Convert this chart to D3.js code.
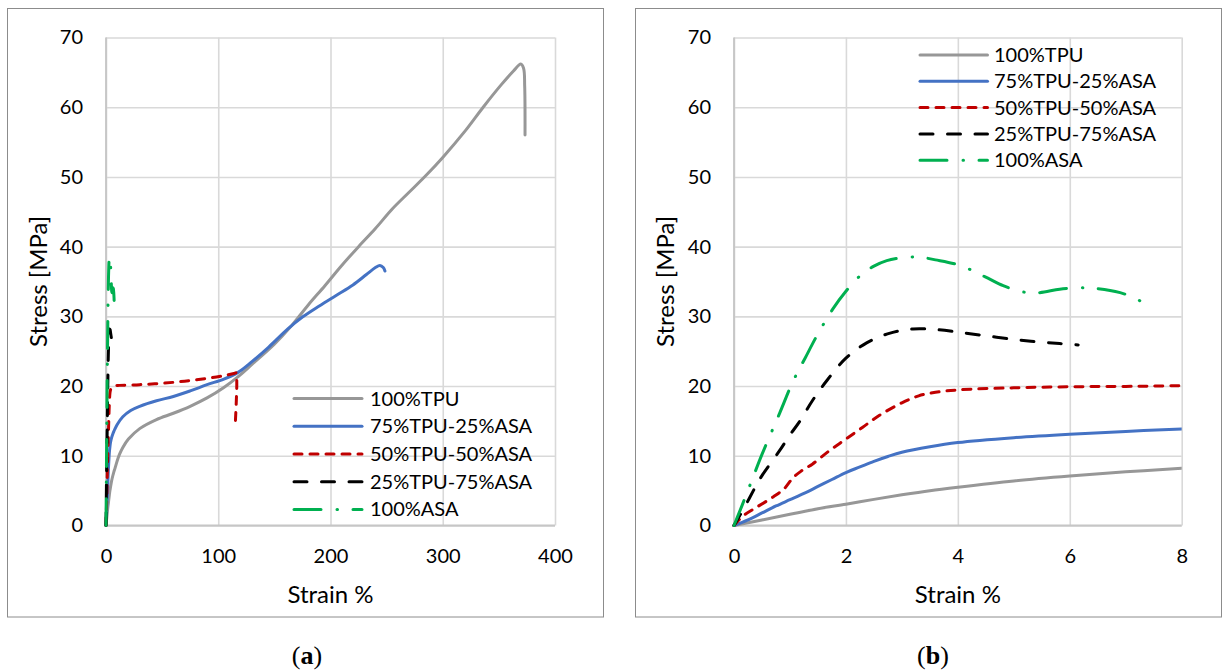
<!DOCTYPE html>
<html>
<head>
<meta charset="utf-8">
<script src="https://cdn.jsdelivr.net/npm/d3@7"></script>
<style>
  html, body { margin: 0; padding: 0; background: #fff; }
  svg { display: block; }
</style>
</head>
<body>
<svg id="chart" width="1226" height="671"></svg>
<script>
// Tensile stress–strain curves, [strain %, stress MPa]
const seriesNames = ["100%TPU", "75%TPU-25%ASA", "50%TPU-50%ASA", "25%TPU-75%ASA", "100%ASA"];

const tpu100 = [
  [0,0],[0.5,0.8],[1,1.6],[1.5,2.4],[2,3.05],[2.5,3.75],[3,4.4],[3.5,5.0],[4,5.5],[5,6.4],[6,7.1],[7,7.7],[8,8.2],
  [10,9.3],[12,10.2],[15,11.2],[20,12.4],[30,13.9],[45,15.2],[60,16.1],[75,17.1],[90,18.3],[105,19.8],[118,21.4],
  [130,23.1],[150,26],[165,28.6],[180,31.6],[195,34.4],[210,37.3],[225,40.0],[240,42.6],[255,45.4],[270,47.8],
  [285,50.2],[300,52.8],[320,56.6],[336,60],[352,63.2],[363,65.2],[369.5,66.2],[372,65.6],[373,63],[373.3,56]
];
const tpu75asa25 = [
  [0,0],[0.25,0.8],[0.5,1.8],[0.75,2.8],[1,3.7],[1.25,4.6],[1.5,5.6],[1.75,6.6],[2,7.6],[2.25,8.4],[2.5,9.2],
  [2.75,9.9],[3,10.5],[3.5,11.3],[4,11.9],[5,12.6],[6,13.1],[7,13.5],[8,13.85],[10,14.5],[15,15.6],[22,16.5],
  [30,17.1],[45,17.9],[60,18.5],[75,19.3],[90,20.2],[105,21.0],[118,22.0],[130,23.5],[145,25.6],[162,28.2],
  [175,29.9],[190,31.5],[205,33.0],[220,34.5],[232,36.0],[240,37.0],[244,37.3],[247,37.0],[248.5,36.5]
];
const tpu50asa50 = [
  [0,0],[0.1,0.9],[0.2,1.6],[0.4,2.6],[0.7,4.1],[0.9,5.3],[1.05,6.8],[1.2,7.8],[1.4,8.8],[1.7,10.7],[2,12.4],
  [2.3,14.1],[2.6,15.8],[3,17.6],[3.3,18.6],[3.6,19.1],[4,19.45],[5,19.75],[6,19.9],[7,19.95],[8,20.05],
  [12,20.1],[30,20.2],[50,20.4],[70,20.7],[90,21.1],[105,21.5],[114,21.8],[116,21.9],[116.5,20.5],[116,17.5],[115.3,15]
];
const tpu25asa75 = [
  [0,0],[0.2,2.8],[0.4,5.8],[0.52,7.4],[0.82,10.8],[1.0,13.0],[1.18,15.0],[1.4,17.9],[1.66,20.8],[2.0,24.0],
  [2.37,26.2],[2.79,27.6],[3.2,28.2],[3.62,28.1],[4.04,27.7],[4.51,27.2],[4.99,26.7],[5.41,26.35],[5.82,26.1],[6.15,25.9]
];
const asa100 = [
  [0,0],[0.15,3.0],[0.32,6.5],[0.5,10.2],[0.82,16.2],[1.05,20.6],[1.27,24.0],[1.5,27.5],[1.77,31.1],[2.0,33.6],
  [2.25,35.8],[2.5,37.2],[2.73,38.0],[3.0,38.4],[3.3,38.5],[3.6,38.1],[4.04,37.3],[4.48,35.7],[4.81,34.4],
  [5.17,33.5],[5.46,33.4],[5.82,33.9],[6.18,34.1],[6.48,34.0],[6.9,33.4],[7.17,32.6],[7.3,32.0],[7.46,31.2]
];

const yTicks = [0, 10, 20, 30, 40, 50, 60, 70];
const xTicksA = [0, 100, 200, 300, 400];
const xTicksB = [0, 2, 4, 6, 8];
const captionLetters = ["a", "b"];
const xTitle = "Strain %";
const yTitle = "Stress [MPa]";

const seriesData = [tpu100, tpu75asa25, tpu50asa50, tpu25asa75, asa100];

// Line appearance per series
const lineStyles = [
  { color: "#979797", dash: null },
  { color: "#4472C4", dash: null },
  { color: "#C00000", dash: "8 8" },
  { color: "#000000", dash: "13 14.5" },
  { color: "#00B050", dash: "27 16 0.5 15.5" }
];

const panels = [
  { frame: [7.5, 8.5, 596, 608.5], px: [106, 555], py: [525.5, 37.5], xDomain: [0, 400], xTicks: xTicksA,
    yTitleX: 39, legend: { x0: 294, x1: 362, tx: 370, y0: 398.6, dy: 27.7 }, capX: 307 },
  { frame: [635.5, 8.5, 586, 608.5], px: [734, 1181.7], py: [525.5, 37.5], xDomain: [0, 8], xTicks: xTicksB,
    yTitleX: 666, legend: { x0: 920, x1: 987.5, tx: 994, y0: 55, dy: 26.3 }, capX: 933 }
];

const FONT = "Lato, 'Open Sans', sans-serif";
const TEXT = "#000";
const svg = d3.select("#chart");

panels.forEach((p, i) => {
  const g = svg.append("g");

  // outer frame
  g.append("rect")
    .attr("x", p.frame[0]).attr("y", p.frame[1])
    .attr("width", p.frame[2]).attr("height", p.frame[3])
    .attr("fill", "none").attr("stroke", "#8c8c8c").attr("stroke-width", 1);

  const x = d3.scaleLinear().domain(p.xDomain).range(p.px);
  const y = d3.scaleLinear().domain([0, 70]).range(p.py);
  const w = p.px[1] - p.px[0];
  const h = p.py[0] - p.py[1];

  // horizontal grid + y labels
  const ya = g.append("g")
    .attr("transform", `translate(${p.px[0]},0)`)
    .call(d3.axisLeft(y).tickValues(yTicks).tickSizeInner(-w).tickSizeOuter(0).tickPadding(23));
  ya.select(".domain").remove();
  ya.selectAll(".tick line").attr("stroke", "#d9d9d9").attr("stroke-width", 1.6);
  ya.selectAll(".tick text").attr("font-family", FONT).attr("font-size", 20).attr("fill", TEXT);

  // vertical grid + x labels
  const xa = g.append("g")
    .attr("transform", `translate(0,${p.py[0]})`)
    .call(d3.axisBottom(x).tickValues(p.xTicks).tickSizeInner(-h).tickSizeOuter(0).tickPadding(23.5));
  xa.select(".domain").remove();
  xa.selectAll(".tick line").attr("stroke", "#d9d9d9").attr("stroke-width", 1.6);
  xa.selectAll(".tick text").attr("font-family", FONT).attr("font-size", 20).attr("fill", TEXT);

  // axis lines
  g.append("line").attr("x1", p.px[0]).attr("x2", p.px[1]).attr("y1", p.py[0]).attr("y2", p.py[0])
    .attr("stroke", "#c6c6c6").attr("stroke-width", 1.8);
  g.append("line").attr("x1", p.px[0]).attr("x2", p.px[0]).attr("y1", p.py[0]).attr("y2", p.py[1])
    .attr("stroke", "#c6c6c6").attr("stroke-width", 1.8);

  // clip to the plot area
  const clipId = "clip" + i;
  svg.append("clipPath").attr("id", clipId)
    .append("rect").attr("x", p.px[0] - 3).attr("y", p.py[1] - 3).attr("width", w + 3).attr("height", h + 6);

  const line = d3.line()
    .x(d => x(d[0])).y(d => y(d[1]))
    .curve(d3.curveCatmullRom.alpha(0.5));

  const curves = g.append("g").attr("clip-path", `url(#${clipId})`);
  seriesData.forEach((data, k) => {
    curves.append("path")
      .datum(data)
      .attr("d", line)
      .attr("fill", "none")
      .attr("stroke", lineStyles[k].color)
      .attr("stroke-width", 3)
      .attr("stroke-linecap", "round")
      .attr("stroke-linejoin", "round")
      .attr("stroke-dasharray", lineStyles[k].dash);
  });

  // legend
  const lg = g.append("g");
  seriesNames.forEach((name, k) => {
    const ly = p.legend.y0 + k * p.legend.dy;
    lg.append("line")
      .attr("x1", p.legend.x0).attr("x2", p.legend.x1).attr("y1", ly).attr("y2", ly)
      .attr("stroke", lineStyles[k].color).attr("stroke-width", 3)
      .attr("stroke-linecap", "round")
      .attr("stroke-dasharray", lineStyles[k].dash);
    lg.append("text")
      .attr("x", p.legend.tx).attr("y", ly).attr("dy", "0.35em")
      .attr("font-family", FONT).attr("font-size", 20).attr("fill", TEXT)
      .text(name);
  });

  // axis titles
  g.append("text")
    .attr("x", (p.px[0] + p.px[1]) / 2).attr("y", 603)
    .attr("text-anchor", "middle")
    .attr("font-family", FONT).attr("font-size", 24).attr("fill", TEXT)
    .text(xTitle);
  g.append("text")
    .attr("transform", `translate(${p.yTitleX},${(p.py[0] + p.py[1]) / 2}) rotate(-90)`)
    .attr("text-anchor", "middle").attr("dy", "0.35em")
    .attr("font-family", FONT).attr("font-size", 24).attr("fill", TEXT)
    .text(yTitle);

  // panel caption
  const cap = svg.append("text")
    .attr("x", p.capX).attr("y", 664)
    .attr("text-anchor", "middle")
    .attr("font-family", "'Liberation Serif', 'DejaVu Serif', serif")
    .attr("font-size", 26).attr("fill", "#000");
  cap.append("tspan").text("(");
  cap.append("tspan").attr("font-weight", "bold").text(captionLetters[i]);
  cap.append("tspan").text(")");
});
</script>
</body>
</html>
